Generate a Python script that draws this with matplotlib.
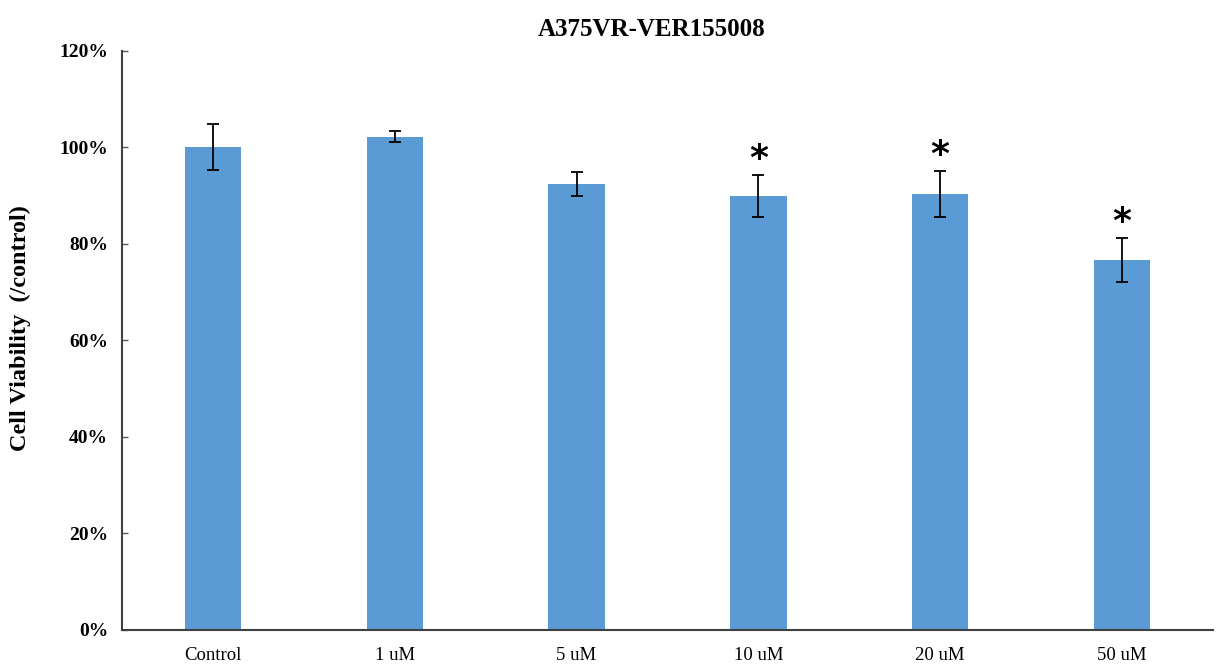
import matplotlib
matplotlib.use("Agg")
from matplotlib import pyplot as plt
from matplotlib.ticker import FuncFormatter

doses = ["Control", "1 uM", "5 uM", "10 uM", "20 uM", "50 uM"]
viability = [100.0, 102.2, 92.4, 89.9, 90.3, 76.6]
sd = [4.8, 1.1, 2.5, 4.3, 4.7, 4.5]
significant = [False, False, False, True, True, True]

plt.rcParams["font.family"] = ["Liberation Serif", "DejaVu Serif"]

fig = plt.figure(figsize=(12.16, 6.67), dpi=100)
ax = fig.add_axes([0.1003, 0.0555, 0.8972, 0.8685])

x = list(range(len(doses)))
ax.bar(x, viability, width=0.31, color="#5B9BD5", zorder=2)
ax.errorbar(x, viability, yerr=sd, fmt="none", ecolor="black",
            elinewidth=1.3, capsize=4.5, capthick=1.3, zorder=3)

# asterisk above the error bar for p < 0.05
for xi, v, e, s in zip(x, viability, sd, significant):
    if s:
        ax.text(xi, v + e - 0.2, "*", ha="center", va="bottom",
                fontsize=26, fontweight="bold", family=["DejaVu Sans"])

ax.set_xlim(-0.5, len(doses) - 0.5)
ax.set_ylim(0, 120)
ax.set_yticks(range(0, 121, 20))
ax.yaxis.set_major_formatter(FuncFormatter(lambda v, p: f"{v:.0f}%"))
ax.set_xticks(x)
ax.set_xticklabels(doses, fontsize=13.5)
for lbl in ax.get_yticklabels():
    lbl.set_fontweight("bold")
    lbl.set_fontsize(14)

ax.tick_params(axis="y", direction="in", length=4, width=1, color="#595959", pad=10)
ax.tick_params(axis="x", length=0, pad=12)

for side in ["top", "right"]:
    ax.spines[side].set_visible(False)
for side in ["left", "bottom"]:
    ax.spines[side].set_color("#404040")
    ax.spines[side].set_linewidth(1.5)

ax.set_ylabel("Cell Viability  (/control)", fontsize=17.5, fontweight="bold")
ax.yaxis.set_label_coords(-0.083, 0.522)
fig.text(652 / 1216, 1 - 30 / 667, "A375VR-VER155008", ha="center", va="center",
         fontsize=18, fontweight="bold")

fig.savefig("out.png", dpi=100)
